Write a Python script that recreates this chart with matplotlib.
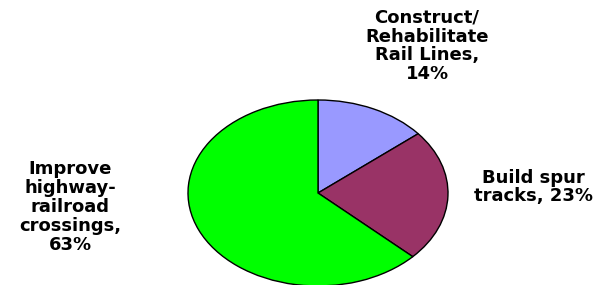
import matplotlib
matplotlib.use("Agg")
import matplotlib.pyplot as plt

categories = ["Construct/\nRehabilitate\nRail Lines", "Build spur\ntracks", "Improve\nhighway-\nrailroad\ncrossings"]
values = [14, 23, 63]
colors = ["#9999FF", "#993366", "#00FF00"]
separators = [",\n", ", ", ",\n"]

W, H = 597, 285
fig = plt.figure(figsize=(W / 100, H / 100), dpi=100)
ax = fig.add_axes([0, 0, 1, 1])
ax.pie(values, colors=colors, startangle=90, counterclock=False,
       wedgeprops=dict(edgecolor="black", linewidth=1.0))
ax.set_aspect("auto")
cx, cy, rx, ry = 318, 193, 130, 93
ax.set_xlim(-cx / rx, (W - cx) / rx)
ax.set_ylim(-(H - cy) / ry, cy / ry)
ax.axis("off")

label_pos = [(427, 46), (533, 187), (70, 207)]
for cat, v, sep, (x, y) in zip(categories, values, separators, label_pos):
    fig.text(x / W, 1 - y / H, f"{cat}{sep}{v}%",
             ha="center", va="center", fontsize=13, fontweight="bold",
             family="DejaVu Sans", linespacing=1.06)

fig.savefig("out.png", dpi=100)
